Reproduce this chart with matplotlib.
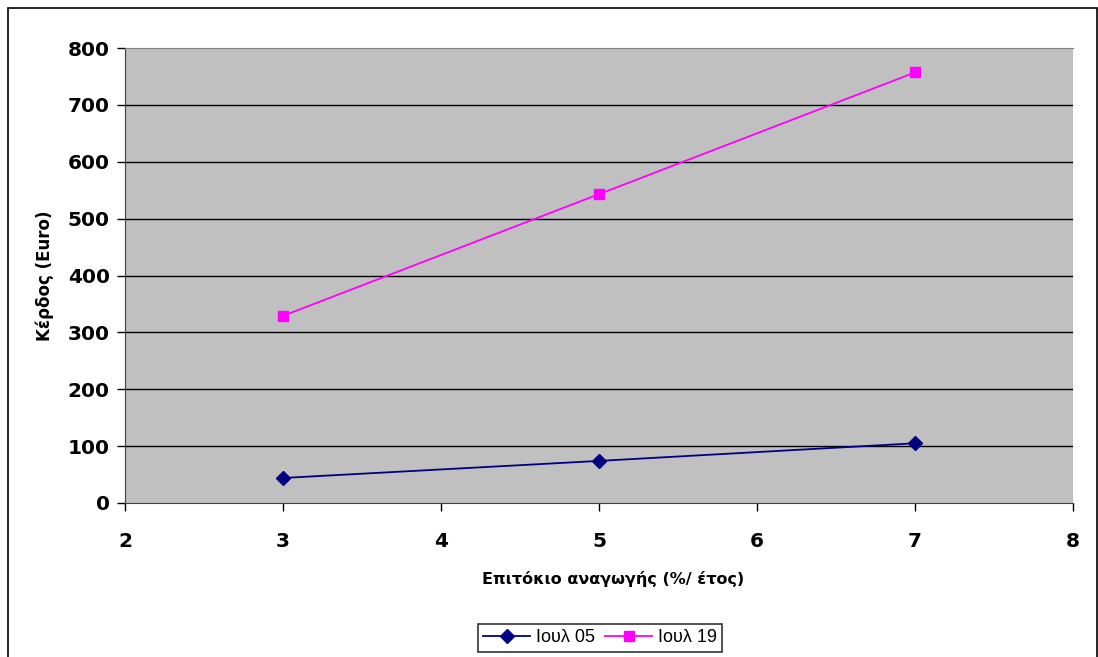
import matplotlib
matplotlib.use('Agg')
from matplotlib import pyplot as plt
from matplotlib.patches import Rectangle

# Δεδομένα
epitokio = [3, 5, 7]
kerdos_ioul05 = [44, 74, 105]
kerdos_ioul19 = [329, 543, 757]
xticks = [2, 3, 4, 5, 6, 7, 8]
yticks = [0, 100, 200, 300, 400, 500, 600, 700, 800]

plt.rcParams['font.family'] = ['Liberation Sans', 'DejaVu Sans']

W, H = 1098, 657
fig = plt.figure(figsize=(W / 100, H / 100), dpi=100)
fig.patch.set_facecolor('white')

# περιοχή γραφήματος σε pixels
left, right, top, bottom = 125, 1073, 48, 503
ax = fig.add_axes([left / W, 1 - bottom / H, (right - left) / W, (bottom - top) / H])
ax.set_facecolor('#C0C0C0')

# εξωτερικό πλαίσιο
fig.patches.append(Rectangle((8 / W, -0.01), (1097 - 8) / W, 1 - 8 / H + 0.01,
                             transform=fig.transFigure, fill=False,
                             edgecolor='black', lw=1.2))

for y in yticks[1:-1]:
    ax.axhline(y, color='black', lw=1, zorder=1)

ax.plot(epitokio, kerdos_ioul05, color='#000080', marker='D', markersize=7,
        lw=1.3, label='Ιουλ 05', zorder=3)
ax.plot(epitokio, kerdos_ioul19, color='#FF00FF', marker='s', markersize=7,
        lw=1.3, label='Ιουλ 19', zorder=3)

ax.set_xlim(2, 8)
ax.set_ylim(0, 800)
ax.set_xticks(xticks)
ax.set_yticks(yticks)
ax.tick_params(direction='out', length=6, width=1, color='black', pad=15)
ax.tick_params(axis='y', pad=5)
for lab in ax.get_xticklabels() + ax.get_yticklabels():
    lab.set_fontweight('heavy')
    lab.set_fontfamily('DejaVu Sans')
    lab.set_fontsize(14.5)

ax.spines['right'].set_visible(False)
ax.spines['left'].set_color('#404040')
ax.spines['bottom'].set_color('#404040')
ax.spines['top'].set_color('#808080')
ax.spines['top'].set_linewidth(0.8)

ax.set_xlabel('Επιτόκιο αναγωγής (%/ έτος)', fontsize=11.5, fontweight='bold',
              family='DejaVu Sans')
ax.xaxis.set_label_coords((613 - left) / (right - left), -0.15)
ax.set_ylabel('Κέρδος (Euro)', fontsize=12, fontweight='bold',
              family='DejaVu Sans')
ax.yaxis.set_label_coords(-0.075, 0.5)

leg = fig.legend(loc='center', bbox_to_anchor=(600 / W, 1 - 638 / H), ncol=2,
                 fontsize=13, frameon=True, fancybox=False, edgecolor='black',
                 handlelength=2.6, columnspacing=0.6, handletextpad=0.3,
                 borderpad=0.3, borderaxespad=0)
leg.get_frame().set_linewidth(1.2)

fig.savefig('out.png', dpi=100)
